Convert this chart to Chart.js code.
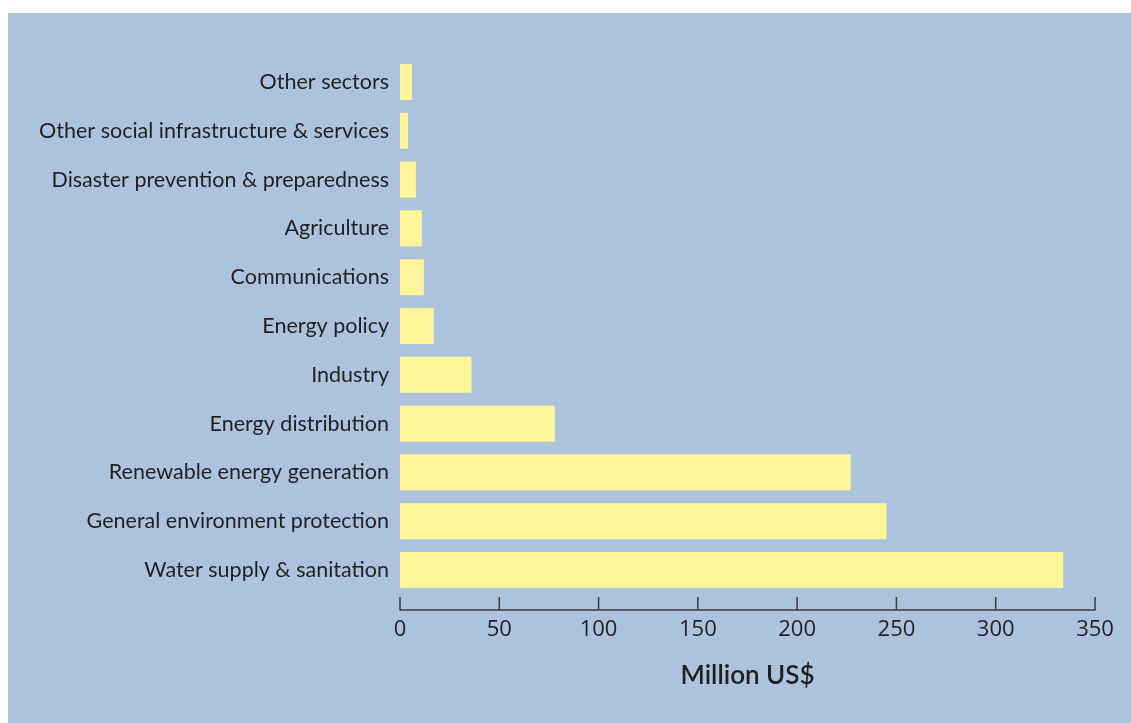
<!DOCTYPE html>
<html>
<head>
<meta charset="utf-8">
<title>Sector allocation</title>
<script src="https://cdn.jsdelivr.net/npm/chart.js@4.4.1/dist/chart.umd.min.js"></script>
<style>
  html, body { margin: 0; padding: 0; background: #fff; }
  .panel {
    position: absolute; left: 8px; top: 13px;
    width: 1123px; height: 710px;
    background: #abc3dd;
  }
</style>
</head>
<body>
<div class="panel"><canvas id="sectorChart" width="1123" height="710"></canvas></div>
<script>
const sectors = [
  "Other sectors",
  "Other social infrastructure & services",
  "Disaster prevention & preparedness",
  "Agriculture",
  "Communications",
  "Energy policy",
  "Industry",
  "Energy distribution",
  "Renewable energy generation",
  "General environment protection",
  "Water supply & sanitation"
];
const amounts = [6, 4, 8, 11, 12, 17, 36, 78, 227, 245, 334];
const xTicks = [0, 50, 100, 150, 200, 250, 300, 350];
const axisTitle = "Million US$";

const TEXT = "#231f20";

// axis line sits a bit below the bars, with tick marks pointing up
const axisLine = {
  id: "axisLine",
  afterDraw(chart) {
    const x = chart.scales.x;
    const ctx = chart.ctx;
    const y = chart.chartArea.bottom + 15.6;
    ctx.save();
    ctx.strokeStyle = "#3b3b3f";
    ctx.lineWidth = 1.5;
    ctx.beginPath();
    ctx.moveTo(x.getPixelForValue(xTicks[0]), y);
    ctx.lineTo(x.getPixelForValue(xTicks[xTicks.length - 1]), y);
    xTicks.forEach(v => {
      const px = x.getPixelForValue(v);
      ctx.moveTo(px, y + 0.75);
      ctx.lineTo(px, y - 13);
    });
    ctx.stroke();
    ctx.restore();
  }
};

new Chart(document.getElementById("sectorChart"), {
  type: "bar",
  data: {
    labels: sectors,
    datasets: [{
      data: amounts,
      backgroundColor: "#fff69b",
      borderWidth: 0,
      barPercentage: 0.74,
      categoryPercentage: 1
    }]
  },
  options: {
    indexAxis: "y",
    responsive: false,
    animation: false,
    layout: { padding: { top: 44.6, right: 36, left: 0, bottom: 0 } },
    plugins: { legend: { display: false }, tooltip: { enabled: false } },
    scales: {
      x: {
        min: 0,
        max: 350,
        afterBuildTicks: s => { s.ticks = xTicks.map(v => ({ value: v })); },
        afterFit: s => { s.height = 128.6; s.paddingLeft = 0; s.paddingRight = 0; },
        border: { display: false },
        grid: { display: false, drawTicks: false },
        ticks: { color: TEXT, padding: 22, font: { family: "Open Sans", size: 22 } },
        title: {
          display: true,
          text: axisTitle,
          color: TEXT,
          font: { family: "Lato", size: 26, weight: "600" },
          padding: { top: 0, bottom: 32 }
        }
      },
      y: {
        afterFit: s => { s.width = 392; },
        border: { display: false },
        grid: { display: false, drawTicks: false },
        ticks: { color: TEXT, padding: 11, font: { family: "Lato", size: 21.5 } }
      }
    }
  },
  plugins: [axisLine]
});
</script>
</body>
</html>
